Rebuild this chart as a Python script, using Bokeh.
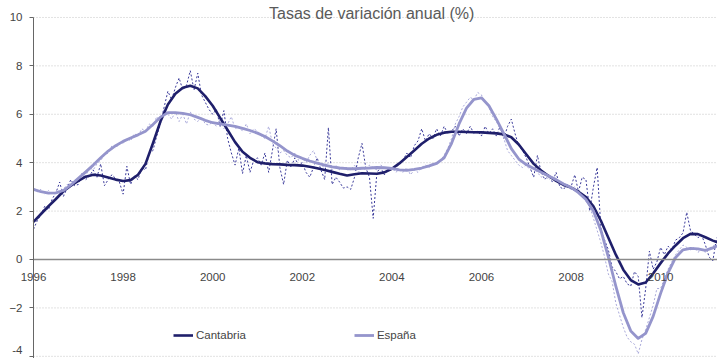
from bokeh.plotting import figure
from bokeh.models import (Range1d, FixedTicker, Label, Legend, LegendItem)
from bokeh.embed import file_html
from bokeh.resources import INLINE

# ---------------- data ----------------
start_year = 1996
end_year = 2011.27
year_ticks = [1996, 1998, 2000, 2002, 2004, 2006, 2008, 2010]
y_ticks = [-4, -2, 0, 2, 4, 6, 8, 10]
title_text = "Tasas de variación anual (%)"
series_names = ["Cantabria", "España"]

# smoothed trend (every two months), Cantabria
cant_trend = [
    1.55, 1.88, 2.20, 2.50, 2.82, 3.05,
    3.25, 3.42, 3.50, 3.47, 3.39, 3.30,
    3.24, 3.28, 3.50, 3.95, 4.80, 5.70,
    6.40, 6.85, 7.10, 7.18, 7.07, 6.75,
    6.35, 5.85, 5.35, 4.85, 4.45, 4.20,
    4.02, 3.97, 3.94, 3.93, 3.91, 3.90,
    3.88, 3.83, 3.77, 3.70, 3.62, 3.54,
    3.47, 3.52, 3.56, 3.55, 3.54, 3.60,
    3.75, 3.97, 4.23, 4.50, 4.78, 5.00,
    5.15, 5.24, 5.28, 5.28, 5.27, 5.26,
    5.25, 5.23, 5.21, 5.17, 5.05, 4.75,
    4.35, 3.95, 3.68, 3.45, 3.25, 3.08,
    2.97, 2.80, 2.58, 2.20, 1.60, 0.90,
    0.20, -0.42, -0.85, -1.03, -0.95, -0.58,
    -0.15, 0.25, 0.58, 0.88, 1.06, 1.05,
    0.92, 0.78, 0.66,
]
# smoothed trend (every two months), España
esp_trend = [
    2.90, 2.80, 2.74, 2.75, 2.85, 3.08,
    3.35, 3.62, 3.90, 4.20, 4.48, 4.70,
    4.88, 5.02, 5.15, 5.30, 5.58, 5.88,
    6.07, 6.07, 6.04, 5.98, 5.87, 5.75,
    5.65, 5.60, 5.55, 5.50, 5.42, 5.33,
    5.22, 5.08, 4.90, 4.70, 4.48, 4.30,
    4.18, 4.07, 3.98, 3.90, 3.83, 3.78,
    3.75, 3.75, 3.77, 3.78, 3.80, 3.79,
    3.76, 3.70, 3.68, 3.72, 3.78, 3.87,
    3.97, 4.20, 4.80, 5.60, 6.25, 6.62,
    6.68, 6.35, 5.80, 5.20, 4.58, 4.15,
    3.92, 3.76, 3.60, 3.45, 3.30, 3.12,
    2.98, 2.76, 2.48, 2.00, 1.20, 0.10,
    -1.10, -2.20, -2.95, -3.26, -3.05, -2.35,
    -1.40, -0.55, 0.08, 0.40, 0.46, 0.44,
    0.38, 0.48, 0.62,
]
# original monthly series, Cantabria
cant_monthly = [
    1.25, 1.60, 1.85, 2.20, 2.05, 2.50, 2.75, 3.20, 2.60, 2.95, 3.30, 3.05,
    3.10, 3.55, 3.30, 3.45, 3.70, 3.40, 3.95, 3.05, 3.30, 3.50, 3.35, 3.20,
    2.70, 3.85, 3.10, 3.45, 3.30, 3.80, 3.70, 4.40, 4.50, 5.10, 5.60, 6.30,
    6.95, 6.60, 7.10, 7.50, 7.00, 7.20, 7.80, 7.00, 7.70, 6.80, 6.50, 6.20,
    6.00, 6.20, 5.50, 6.15, 5.00, 4.40, 3.90, 4.60, 3.55, 4.30, 3.60, 4.10,
    4.20, 3.90, 4.40, 3.60, 4.50, 5.40, 3.80, 3.10, 4.10, 3.80, 4.20, 3.90,
    4.00, 3.60, 3.40, 3.80, 4.20, 3.70, 3.30, 5.45, 3.10, 3.40, 3.20, 2.95,
    3.00, 2.90, 3.40, 4.20, 4.80, 3.80, 3.40, 1.70, 3.60, 3.80, 3.50, 3.70,
    3.80, 3.70, 4.00, 4.10, 4.40, 4.20, 4.70, 4.90, 5.40, 4.90, 5.20, 5.00,
    5.40, 5.10, 5.50, 5.20, 5.30, 5.50, 5.10, 5.40, 5.20, 5.50, 5.20, 5.30,
    5.10, 5.50, 5.20, 5.40, 5.10, 5.50, 5.00, 5.50, 5.80, 5.20, 4.70, 4.50,
    4.20, 3.80, 3.40, 4.30, 3.60, 3.30, 3.50, 3.20, 3.60, 3.00, 2.90, 3.10,
    3.00, 3.50, 2.80, 3.40, 3.30, 2.00, 3.00, 3.80, 1.30, 0.80, 0.40, -0.30,
    -0.50, -0.80, -0.70, -1.00, -1.10, -0.50, -0.70, -2.40, -1.20, 0.35, -0.40, -0.10,
    0.50, 0.20, 0.55, 0.40, 0.80, 0.90, 1.10, 1.95, 1.20, 1.05, 0.90, 1.00,
    0.60, 0.10, -0.05, 0.90,
]
# original monthly series, España
esp_monthly = [
    2.95, 2.80, 2.90, 2.70, 2.85, 2.70, 2.75, 2.85, 2.90, 3.10, 3.05, 3.30,
    3.30, 3.50, 3.45, 3.80, 3.70, 3.95, 4.10, 4.30, 4.40, 4.70, 4.60, 4.80,
    4.80, 5.00, 4.90, 5.20, 5.10, 5.40, 5.30, 5.60, 5.50, 5.90, 5.70, 6.20,
    6.00, 5.80, 6.10, 5.70, 6.00, 5.60, 6.10, 5.80, 5.70, 5.90, 5.60, 5.55,
    5.70, 5.50, 5.80, 5.40, 5.60, 5.90, 5.40, 5.50, 5.30, 5.60, 5.20, 5.40,
    5.30, 5.10, 5.00, 5.50, 4.80, 4.60, 4.40, 4.50, 4.30, 4.20, 4.40, 4.10,
    4.20, 4.00, 4.30, 4.50, 4.10, 3.90, 3.80, 4.00, 3.70, 3.90, 3.70, 3.80,
    3.80, 3.70, 3.90, 3.60, 3.80, 3.70, 3.90, 3.80, 3.70, 3.90, 3.80, 3.70,
    3.80, 3.60, 3.70, 3.60, 3.80, 3.50, 3.70, 3.60, 3.80, 3.90, 3.80, 4.00,
    3.90, 4.10, 4.30, 4.60, 5.00, 5.60, 5.90, 6.30, 6.50, 6.70, 6.60, 6.90,
    6.80, 6.50, 6.30, 5.90, 5.70, 5.40, 5.00, 4.50, 4.30, 4.10, 3.90, 3.80,
    3.90, 3.70, 3.80, 3.60, 3.40, 3.50, 3.30, 3.40, 3.30, 3.10, 3.20, 3.00,
    2.90, 3.00, 2.80, 2.70, 2.40, 2.20, 1.70, 1.20, 0.70, 0.10, -0.60, -0.90,
    -1.80, -2.30, -2.80, -3.20, -3.40, -3.50, -3.90, -3.30, -2.90, -2.40, -1.90, -1.20,
    -1.20, -0.80, -0.40, -0.10, 0.20, 0.40, 0.60, 0.50, 0.40, 0.50, 0.30, 0.40,
    0.30, 0.50, 0.50, 0.80,
]

trend_x = [start_year + i / 6 for i in range(len(cant_trend))]
months = [start_year + i / 12 for i in range(len(cant_monthly))]

# ---------------- figure ----------------
FONT = "Liberation Sans"
LABEL_SIZE = "11.5px"
LABEL_COLOR = "#444444"
y_lo, y_hi = -4.09, 10.70
p = figure(width=717, height=358, output_backend="svg", toolbar_location=None,
           title=None,
           x_range=Range1d(1995.263, end_year), y_range=Range1d(y_lo, y_hi),
           min_border_left=0, min_border_right=0, min_border_top=0, min_border_bottom=0)
p.outline_line_color = None
p.background_fill_color = "white"
p.border_fill_color = "white"

p.xgrid.visible = False
p.ygrid.visible = False

# horizontal dotted gridlines starting at the y axis
grid_y = [t for t in y_ticks if t != 0]
p.segment(x0=[start_year] * len(grid_y), x1=[end_year] * len(grid_y),
          y0=grid_y, y1=grid_y, line_color="#c4c4c4", line_width=1, line_dash="1 2")

# y axis at 1996
ya = p.yaxis[0]
ya.fixed_location = start_year
ya.ticker = FixedTicker(ticks=y_ticks)
ya.bounds = (y_lo, 10)
ya.axis_line_color = "#666666"
ya.major_tick_line_color = "#666666"
ya.major_tick_out = 4
ya.major_tick_in = 0
ya.minor_tick_line_color = None
ya.major_label_standoff = 7
ya.major_label_text_font = FONT
ya.major_label_text_font_size = LABEL_SIZE
ya.major_label_text_color = LABEL_COLOR
# the lowest tick label sits at the bottom edge: draw it nudged up so it is not cut
lowest = y_ticks[0]
ya.major_label_overrides = {lowest: ""}
p.add_layout(Label(x=start_year, y=lowest, x_offset=-11, y_offset=2, text=str(lowest),
                   text_align="right", text_baseline="bottom",
                   text_font=FONT, text_font_size=LABEL_SIZE, text_color=LABEL_COLOR))

# x axis crossing at zero
xa = p.xaxis[0]
xa.fixed_location = 0
xa.ticker = FixedTicker(ticks=year_ticks)
xa.bounds = (start_year, end_year)
xa.axis_line_color = "#8a8a8a"
xa.axis_line_width = 1.6
xa.major_tick_out = 0
xa.major_tick_in = 0
xa.minor_tick_line_color = None
xa.major_label_standoff = 14
xa.major_label_text_font = FONT
xa.major_label_text_font_size = LABEL_SIZE
xa.major_label_text_color = LABEL_COLOR

# monthly raw series (dashed)
p.line(months, cant_monthly, line_color="#3a3a9a", line_width=1, line_dash="2 2")
p.line(months, esp_monthly, line_color="#a9a9da", line_width=1, line_dash="2 2")

# trends
r_cant = p.line(trend_x, cant_trend, line_color="#1f1f6b", line_width=2.6, line_join="round")
r_esp = p.line(trend_x, esp_trend, line_color="#9595cc", line_width=2.8, line_join="round")

# title
p.add_layout(Label(x=2003.55, y=10, y_offset=4, text=title_text,
                   text_align="center", text_baseline="alphabetic",
                   text_font=FONT, text_font_size="16px", text_color="#5a5a5a"))

legend = Legend(items=[LegendItem(label=series_names[0], renderers=[r_cant]),
                       LegendItem(label=series_names[1], renderers=[r_esp])],
                orientation="horizontal", location=(173, 13))
legend.border_line_color = None
legend.background_fill_alpha = 0
legend.padding = 0
legend.margin = 0
legend.spacing = 108
legend.glyph_width = 20
legend.label_standoff = 3
legend.label_text_font = FONT
legend.label_text_font_size = LABEL_SIZE
legend.label_text_color = LABEL_COLOR
p.add_layout(legend, "center")

open("out.html", "w").write(file_html(p, INLINE))
